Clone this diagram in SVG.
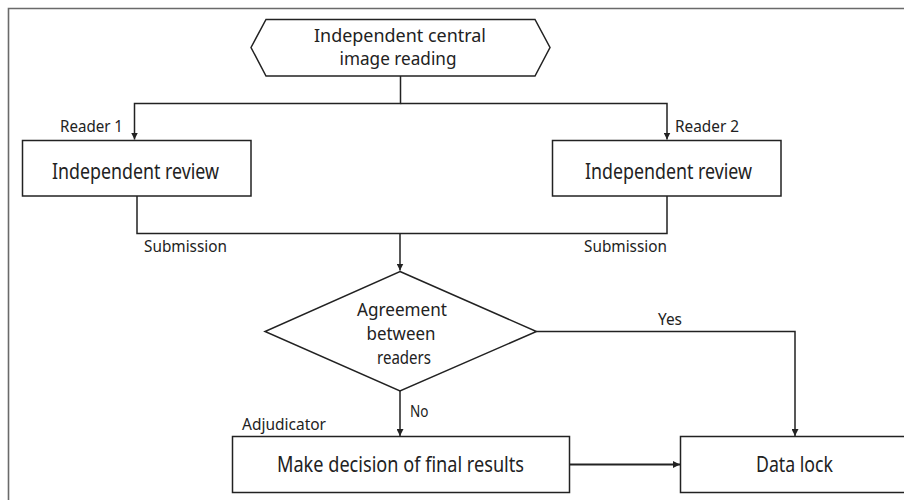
<svg xmlns="http://www.w3.org/2000/svg" width="904" height="500" viewBox="0 0 904 500">
<style>
.shape{fill:#fff;stroke:#222;stroke-width:1.5}
.conn{fill:none;stroke:#222;stroke-width:1.5}
.thick{stroke-width:2.2}
.t{font-family:"Noto Sans","DejaVu Sans",sans-serif;fill:#222;text-anchor:middle}
.main{font-size:21px}
.hex{font-size:17.5px}
.dia{font-size:17.5px}
.lbl{font-size:17px}
.lbl-s{text-anchor:start}
</style>
<defs>
<marker id="arr" viewBox="0 0 10 10" refX="10" refY="5" markerWidth="7" markerHeight="7" markerUnits="userSpaceOnUse" orient="auto">
<path d="M0,0 L10,5 L0,10 z" fill="#222"/>
</marker>
</defs>
<rect width="904" height="500" fill="#fff"/>
<path d="M8.5,510 V8.5 H910" fill="none" stroke="#6a6a6a" stroke-width="1.6"/>

<g id="connectors">
<path class="conn" d="M400.5,76 V103.5 H134.5 V139.5" marker-end="url(#arr)"/>
<path class="conn" d="M400.5,103.5 H667 V139.5" marker-end="url(#arr)"/>
<path class="conn" d="M137,196 V233.5 H667 V196"/>
<path class="conn" d="M400,233.5 V270.5" marker-end="url(#arr)"/>
<path class="conn" d="M400,391 V436" marker-end="url(#arr)"/>
<path class="conn" d="M536.5,331.5 H795 V436" marker-end="url(#arr)"/>
<path class="conn thick" d="M569.5,464.5 H680" marker-end="url(#arr)"/>
<text class="t lbl lbl-s" x="60" y="131.5" textLength="63" lengthAdjust="spacingAndGlyphs">Reader 1</text>
<text class="t lbl lbl-s" x="675" y="131.5" textLength="64" lengthAdjust="spacingAndGlyphs">Reader 2</text>
<text class="t lbl lbl-s" x="144" y="252" textLength="83" lengthAdjust="spacingAndGlyphs">Submission</text>
<text class="t lbl lbl-s" x="584" y="252" textLength="83" lengthAdjust="spacingAndGlyphs">Submission</text>
<text class="t lbl lbl-s" x="658" y="325" textLength="24" lengthAdjust="spacingAndGlyphs">Yes</text>
<text class="t lbl lbl-s" x="410" y="416.5" textLength="18.5" lengthAdjust="spacingAndGlyphs">No</text>
<text class="t lbl lbl-s" x="242" y="430" textLength="84" lengthAdjust="spacingAndGlyphs">Adjudicator</text>
</g>

<g id="start">
<polygon class="shape" points="251,47.5 266,19.5 535,19.5 550,47.5 535,76 266,76"/>
<text class="t hex" x="400" y="41.5" textLength="172" lengthAdjust="spacingAndGlyphs">Independent central</text>
<text class="t hex" x="398" y="64.5" textLength="117" lengthAdjust="spacingAndGlyphs">image reading</text>
</g>

<g id="review1">
<rect class="shape" x="22.5" y="140.5" width="228.5" height="55.5"/>
<text class="t main" x="135.5" y="179" textLength="167" lengthAdjust="spacingAndGlyphs">Independent review</text>
</g>

<g id="review2">
<rect class="shape" x="552.5" y="140.5" width="228.5" height="55.5"/>
<text class="t main" x="668.5" y="179" textLength="167" lengthAdjust="spacingAndGlyphs">Independent review</text>
</g>

<g id="agreement">
<polygon class="shape" points="400,271.5 536.5,331.5 400,391 265,331.5"/>
<text class="t dia" x="402" y="316" textLength="90" lengthAdjust="spacingAndGlyphs">Agreement</text>
<text class="t dia" x="401" y="340" textLength="69" lengthAdjust="spacingAndGlyphs">between</text>
<text class="t dia" x="404" y="363.5" textLength="54" lengthAdjust="spacingAndGlyphs">readers</text>
</g>

<g id="decision">
<rect class="shape" x="232.5" y="436.5" width="337" height="56"/>
<text class="t main" x="400.5" y="471.5" textLength="247" lengthAdjust="spacingAndGlyphs">Make decision of final results</text>
</g>

<g id="datalock">
<rect class="shape" x="680.5" y="436.5" width="230" height="56"/>
<text class="t main" x="794.5" y="472" textLength="77" lengthAdjust="spacingAndGlyphs">Data lock</text>
</g>
</svg>
